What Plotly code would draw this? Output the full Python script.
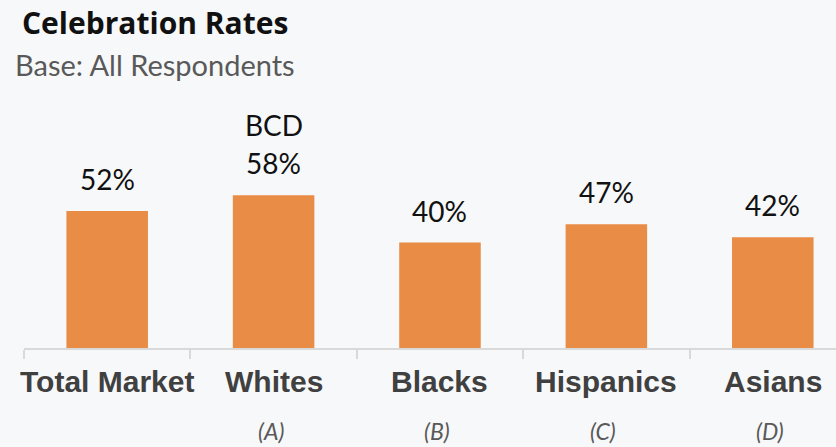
import plotly.graph_objects as go

categories = ["Total Market", "Whites", "Blacks", "Hispanics", "Asians"]
group_letters = ["", "(A)", "(B)", "(C)", "(D)"]
celebration_pct = [52, 58, 40, 47, 42]
significance = ["", "BCD", "", "", ""]

BAR_COLOR = "#E98C46"
BG = "#F7F8FA"
LABEL_FONT = "Lato"

fig = go.Figure(
    go.Bar(
        x=categories,
        y=celebration_pct,
        width=0.49,
        marker=dict(color=BAR_COLOR, line=dict(width=0)),
        hoverinfo="skip",
    )
)

# value labels, significance letters and category captions
for cat, val, sig, letter in zip(categories, celebration_pct, significance, group_letters):
    fig.add_annotation(
        x=cat, y=val, xref="x", yref="y", text=f"{val}%", showarrow=False,
        yanchor="middle", yshift=32,
        font=dict(family=LABEL_FONT, size=28, color="#111111"),
    )
    if sig:
        fig.add_annotation(
            x=cat, y=val, xref="x", yref="y", text=sig, showarrow=False,
            yanchor="middle", yshift=70,
            font=dict(family=LABEL_FONT, size=28, color="#111111"),
        )
    fig.add_annotation(
        x=cat, y=0, xref="x", yref="y", text=f"<b>{cat}</b>", showarrow=False,
        yanchor="middle", yshift=-33,
        font=dict(family="Liberation Sans", size=30, color="#404040"),
    )
    if letter:
        fig.add_annotation(
            x=cat, y=0, xref="x", yref="y", text=f"<i>{letter}</i>", showarrow=False,
            yanchor="middle", yshift=-83, xshift=-3,
            font=dict(family=LABEL_FONT, size=23, color="#595959"),
        )

# title block above the plot area
fig.add_annotation(
    x=0, y=1, xref="paper", yref="paper", xshift=-4, yshift=68,
    text="<b>Celebration Rates</b>", showarrow=False, xanchor="left", yanchor="middle",
    font=dict(family="Open Sans", size=30, color="#111111"),
)
fig.add_annotation(
    x=0, y=1, xref="paper", yref="paper", xshift=-11, yshift=26,
    text="Base: All Respondents", showarrow=False, xanchor="left", yanchor="middle",
    font=dict(family=LABEL_FONT, size=29, color="#595959"),
)

fig.update_layout(
    width=836, height=447,
    margin=dict(l=24, r=0, t=90, b=99),
    paper_bgcolor=BG, plot_bgcolor=BG,
    showlegend=False,
    xaxis=dict(
        type="category", range=[-0.5, 4.38], showticklabels=False,
        showline=True, linecolor="#D9D9D9", linewidth=2,
        ticks="outside", tickson="boundaries", ticklen=9, tickcolor="#D9D9D9", tickwidth=2,
        showgrid=False, zeroline=False,
    ),
    yaxis=dict(range=[0, 258 / 2.635], visible=False, showgrid=False, zeroline=False),
)

fig.write_html("out.html")
